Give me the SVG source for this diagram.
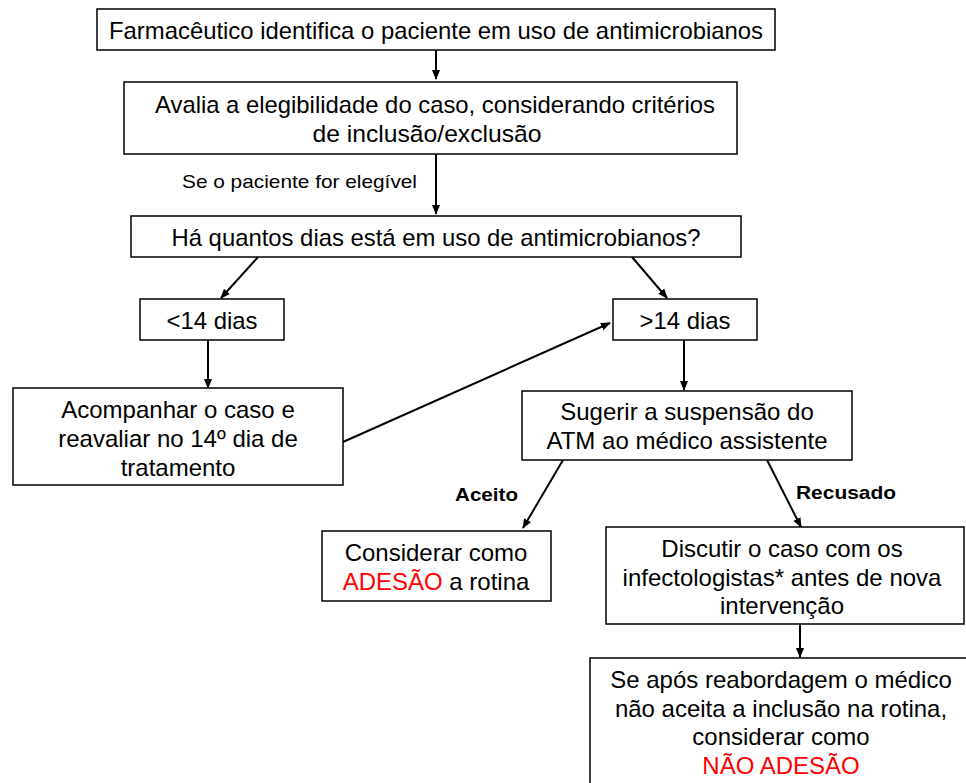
<svg xmlns="http://www.w3.org/2000/svg" width="966" height="783" viewBox="0 0 966 783">
<style>
.box{fill:#fff;stroke:#000;stroke-width:1.5}
.t{font-family:"Liberation Sans",Arial,sans-serif;font-size:24px;fill:#000;text-anchor:middle}
.n{font-family:"Liberation Sans",Arial,sans-serif;font-size:24px;fill:#000;text-anchor:middle}
.lb{font-family:"Liberation Sans",Arial,sans-serif;font-size:19px;fill:#000}
.bb{font-family:"Liberation Sans",Arial,sans-serif;font-size:19px;font-weight:bold;fill:#000}
.red{fill:#ff0000}
.c{fill:none;stroke:#000;stroke-width:2;marker-end:url(#ah)}
</style>
<defs>
<marker id="ah" markerWidth="10" markerHeight="10" refX="9" refY="5" orient="auto" markerUnits="userSpaceOnUse" viewBox="0 0 10 10">
<path d="M0,1 L10,5 L0,9 Z" fill="#000"/>
</marker>
</defs>
<rect width="966" height="783" fill="#fff"/>
<g id="connectors">
<line class="c" x1="436" y1="50" x2="436" y2="79"/>
<line class="c" x1="436" y1="154" x2="436" y2="214"/>
<line class="c" x1="258" y1="257" x2="221" y2="298"/>
<line class="c" x1="632" y1="257" x2="667" y2="298"/>
<line class="c" x1="208" y1="340" x2="208" y2="388"/>
<line class="c" x1="343" y1="442" x2="610" y2="323"/>
<line class="c" x1="684" y1="340" x2="684" y2="390"/>
<line class="c" x1="563" y1="460" x2="523" y2="528"/>
<line class="c" x1="767" y1="460" x2="801" y2="527"/>
<line class="c" x1="800" y1="624" x2="800" y2="657"/>
<text class="lb" x="182" y="188" textLength="235" lengthAdjust="spacingAndGlyphs">Se o paciente for elegível</text>
<text class="bb" x="455" y="501" textLength="63" lengthAdjust="spacingAndGlyphs">Aceito</text>
<text class="bb" x="796" y="499" textLength="100" lengthAdjust="spacingAndGlyphs">Recusado</text>
</g>
<g id="n1">
<rect class="box" x="97" y="9" width="678" height="41"/>
<text class="n" x="436" y="39" textLength="654" lengthAdjust="spacingAndGlyphs">Farmacêutico identifica o paciente em uso de antimicrobianos</text>
</g>
<g id="n2">
<rect class="box" x="124" y="82" width="613" height="72"/>
<text class="n" x="435" y="113" textLength="560" lengthAdjust="spacingAndGlyphs">Avalia a elegibilidade do caso, considerando critérios</text>
<text class="n" x="427" y="142" textLength="229" lengthAdjust="spacingAndGlyphs">de inclusão/exclusão</text>
</g>
<g id="n3">
<rect class="box" x="131" y="216" width="610" height="41"/>
<text class="n" x="436" y="246" textLength="529" lengthAdjust="spacingAndGlyphs">Há quantos dias está em uso de antimicrobianos?</text>
</g>
<g id="n4">
<rect class="box" x="140" y="299" width="144" height="41"/>
<text class="n" x="212" y="329" textLength="91" lengthAdjust="spacingAndGlyphs">&lt;14 dias</text>
</g>
<g id="n5">
<rect class="box" x="613" y="299" width="144" height="41"/>
<text class="n" x="685" y="329" textLength="91" lengthAdjust="spacingAndGlyphs">&gt;14 dias</text>
</g>
<g id="n6">
<rect class="box" x="13" y="388" width="330" height="97"/>
<text class="t" x="178" y="418">Acompanhar o caso e</text>
<text class="t" x="178" y="447">reavaliar no 14º dia de</text>
<text class="t" x="178" y="476">tratamento</text>
</g>
<g id="n7">
<rect class="box" x="522" y="391" width="330" height="69"/>
<text class="t" x="687" y="420">Sugerir a suspensão do</text>
<text class="t" x="687" y="449">ATM ao médico assistente</text>
</g>
<g id="n8">
<rect class="box" x="322" y="531" width="229" height="70"/>
<text class="t" x="436" y="561">Considerar como</text>
<text class="t" x="436" y="590"><tspan class="red">ADESÃO</tspan> a rotina</text>
</g>
<g id="n9">
<rect class="box" x="606" y="527" width="358" height="97"/>
<text class="t" x="782" y="557">Discutir o caso com os</text>
<text class="t" x="782" y="586">infectologistas* antes de nova</text>
<text class="t" x="782" y="614">intervenção</text>
</g>
<g id="n10">
<rect class="box" x="590" y="658" width="380" height="130"/>
<text class="t" x="781" y="688">Se após reabordagem o médico</text>
<text class="t" x="781" y="717">não aceita a inclusão na rotina,</text>
<text class="t" x="781" y="745">considerar como</text>
<text class="t red" x="781" y="774">NÃO ADESÃO</text>
</g>
</svg>
